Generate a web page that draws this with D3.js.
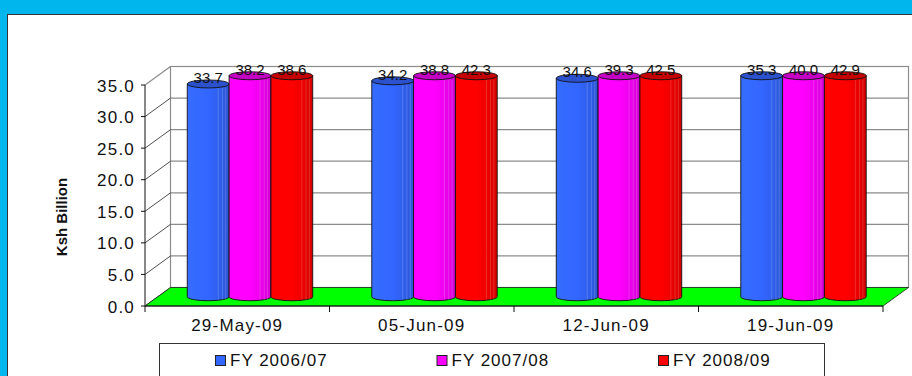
<!DOCTYPE html>
<html>
<head>
<meta charset="utf-8">
<script src="https://cdn.jsdelivr.net/npm/d3@7"></script>
<style>
  html, body { margin: 0; padding: 0; background: #00b6ec; }
  svg { display: block; }
  text { font-family: "Liberation Sans", Arial, sans-serif; }
</style>
</head>
<body>
<svg id="chart" width="912" height="376"></svg>
<script>
// Weekly values, Ksh Billion
const categories = ["29-May-09", "05-Jun-09", "12-Jun-09", "19-Jun-09"];
const seriesNames = ["FY 2006/07", "FY 2007/08", "FY 2008/09"];
const fy0607 = [33.7, 34.2, 34.6, 35.3];
const fy0708 = [38.2, 38.8, 39.3, 40.0];
const fy0809 = [38.6, 42.3, 42.5, 42.9];
const yTicks = [0, 5, 10, 15, 20, 25, 30, 35];
const colors = ["#3366ff", "#ff00ff", "#ff0000"];
const topColors = ["#2b52cc", "#c400c4", "#c40000"];

const seriesValues = [fy0607, fy0708, fy0809];
const rows = categories.map((c, i) => ({
  cat: c,
  vals: seriesNames.map((s, j) => ({ s, j, v: seriesValues[j][i] }))
}));

const svg = d3.select("#chart");

// white plot panel with a dark edge
svg.append("rect").attr("x", 7.5).attr("y", 14.5).attr("width", 920).attr("height", 380)
  .attr("fill", "#fff").attr("stroke", "#333").attr("stroke-width", 1);

// 3D frame geometry
const x0 = 145, x1 = 883;
const depthX = 25.5, depthY = -18.5;
const yMax = 35;
const y = d3.scaleLinear().domain([0, yMax]).range([306, 85]);
const xCat = d3.scaleBand().domain(categories).range([x0, x1]).paddingInner(0).paddingOuter(0);
const groupW = xCat.bandwidth() * 0.68;
const xSer = d3.scaleBand().domain(seriesNames)
  .range([(xCat.bandwidth() - groupW) / 2, (xCat.bandwidth() + groupW) / 2]);

const gWall = svg.append("g");
// back wall
gWall.append("rect")
  .attr("x", x0 + depthX).attr("y", y(yMax) + depthY)
  .attr("width", x1 - x0).attr("height", y(0) - y(yMax))
  .attr("fill", "#fff").attr("stroke", "#8c8c8c").attr("stroke-width", 1.2);
// back wall gridlines
gWall.selectAll("line.grid").data(yTicks).join("line")
  .attr("x1", x0 + depthX).attr("x2", x1 + depthX)
  .attr("y1", d => y(d) + depthY).attr("y2", d => y(d) + depthY)
  .attr("stroke", "#8c8c8c").attr("stroke-width", 1.2);
// side wall gridlines
gWall.selectAll("line.side").data(yTicks).join("line")
  .attr("x1", x0).attr("x2", x0 + depthX)
  .attr("y1", d => y(d)).attr("y2", d => y(d) + depthY)
  .attr("stroke", d => d === yMax ? "#8c8c8c" : "#222").attr("stroke-width", d => d === yMax ? 1.2 : 0.8);

// green floor
gWall.append("path")
  .attr("d", `M${x0},${y(0)} L${x1},${y(0)} L${x1 + depthX},${y(0) + depthY} L${x0 + depthX},${y(0) + depthY} Z`)
  .attr("fill", "#00ff00").attr("stroke", "#222").attr("stroke-width", 0.8);

// cylinder shading
const defs = svg.append("defs");
colors.forEach((c, j) => {
  const base = d3.color(c);
  const g = defs.append("linearGradient").attr("id", "cyl" + j)
    .attr("x1", "0%").attr("x2", "100%").attr("y1", "0%").attr("y2", "0%");
  g.append("stop").attr("offset", "0%").attr("stop-color", base.brighter(0.15));
  g.append("stop").attr("offset", "50%").attr("stop-color", base);
  g.append("stop").attr("offset", "75%").attr("stop-color", base.darker(0.2));
  g.append("stop").attr("offset", "100%").attr("stop-color", base.darker(0.5));
});

// bars, drawn at mid depth of the floor
const midX = depthX / 2, midY = depthY / 2;
const ry = 4;
const gBars = svg.append("g");
rows.forEach(row => {
  row.vals.forEach(d => {
    const w = xSer.bandwidth();
    const left = xCat(row.cat) + xSer(d.s) + midX;
    const right = left + w;
    const rx = w / 2;
    const vShown = Math.min(d.v, yMax);
    const top = y(vShown) + midY;
    const bottom = y(0) + midY;
    const g = gBars.append("g");
    g.append("path")
      .attr("d", `M${left},${top} L${left},${bottom} A${rx},${ry} 0 0 0 ${right},${bottom} L${right},${top} Z`)
      .attr("fill", `url(#cyl${d.j})`).attr("stroke", "#111").attr("stroke-width", 0.9);
    // faint facet highlights
    [0.74, 0.84, 0.92].forEach(f => {
      g.append("line")
        .attr("x1", left + w * f).attr("x2", left + w * f)
        .attr("y1", top + ry).attr("y2", bottom + ry * 0.8)
        .attr("stroke", "#fff").attr("stroke-opacity", 0.22).attr("stroke-width", 0.8);
    });
    g.append("ellipse")
      .attr("cx", left + rx).attr("cy", top).attr("rx", rx).attr("ry", ry)
      .attr("fill", topColors[d.j]).attr("stroke", "#111").attr("stroke-width", 0.9);
  });
});

// value labels
const gLab = svg.append("g");
rows.forEach(row => {
  row.vals.forEach(d => {
    const w = xSer.bandwidth();
    const cx = xCat(row.cat) + xSer(d.s) + midX + w / 2;
    const top = y(Math.min(d.v, yMax)) + midY;
    gLab.append("text")
      .attr("x", cx).attr("y", top - 1)
      .attr("text-anchor", "middle")
      .attr("font-size", 15).attr("fill", "#111")
      .text(d.v.toFixed(1));
  });
});

// value axis
const gAxis = svg.append("g");
gAxis.append("line").attr("x1", x0).attr("x2", x0).attr("y1", y(yMax)).attr("y2", y(0))
  .attr("stroke", "#111").attr("stroke-width", 1);
gAxis.selectAll("line.yt").data(yTicks).join("line")
  .attr("x1", x0 - 4).attr("x2", x0).attr("y1", d => y(d)).attr("y2", d => y(d))
  .attr("stroke", "#111");
gAxis.selectAll("text.yl").data(yTicks).join("text")
  .attr("x", 135).attr("y", d => y(d) + 6.5)
  .attr("text-anchor", "end").attr("font-size", 17).attr("letter-spacing", 1.2)
  .attr("fill", "#111")
  .text(d => d3.format(".1f")(d));

// category axis
gAxis.append("line").attr("x1", x0).attr("x2", x1).attr("y1", y(0)).attr("y2", y(0))
  .attr("stroke", "#111");
const bounds = categories.map(c => xCat(c)).concat([x1]);
gAxis.selectAll("line.xt").data(bounds).join("line")
  .attr("x1", d => d).attr("x2", d => d).attr("y1", y(0)).attr("y2", y(0) + 6)
  .attr("stroke", "#111");
gAxis.selectAll("text.xl").data(categories).join("text")
  .attr("x", d => xCat(d) + xCat.bandwidth() / 2).attr("y", 331)
  .attr("text-anchor", "middle").attr("font-size", 17).attr("letter-spacing", 1.2)
  .attr("fill", "#111")
  .text(d => d);

// axis title
svg.append("text")
  .attr("transform", "translate(67,217) rotate(-90)")
  .attr("text-anchor", "middle").attr("font-size", 15).attr("font-weight", "bold")
  .attr("fill", "#111")
  .text("Ksh Billion");

// legend
const gLeg = svg.append("g");
gLeg.append("rect").attr("x", 159.5).attr("y", 343.5).attr("width", 665).attr("height", 60)
  .attr("fill", "#fff").attr("stroke", "#333").attr("stroke-width", 1);
const legX = d3.scalePoint().domain(seriesNames).range([215, 658]);
seriesNames.forEach((s, j) => {
  gLeg.append("rect").attr("x", legX(s) + 0.5).attr("y", 355.5).attr("width", 10).attr("height", 10)
    .attr("fill", colors[j]).attr("stroke", "#222").attr("stroke-width", 1);
  gLeg.append("text").attr("x", legX(s) + 15).attr("y", 366)
    .attr("font-size", 17).attr("letter-spacing", 1).attr("fill", "#111")
    .text(s);
});
</script>
</body>
</html>
